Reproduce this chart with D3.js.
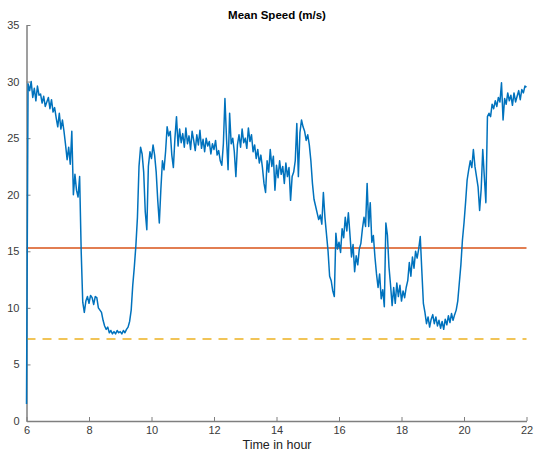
<!DOCTYPE html>
<html><head><meta charset="utf-8">
<script src="https://cdn.jsdelivr.net/npm/d3@7"></script>
<style>body{margin:0;background:#fff;}svg{display:block;font-family:"Liberation Sans",Arial,sans-serif;}</style>
</head><body><svg id="c" width="534" height="453"></svg>
<script>
const startHour = 6;
const stepHour = 0.05;
const speed = [
 1.5,29.8,29.2,30.0,28.6,29.4,28.3,29.6,28.8,28.9,28.1,28.7,27.8,28.2,28.6,27.6,28.4,27.3,27.7,26.8,
 26.0,27.2,25.8,26.6,25.6,24.4,23.1,24.2,22.7,25.6,20.0,21.8,20.4,19.8,21.6,15.0,10.5,9.6,10.6,11.0,
 10.4,11.1,10.9,10.3,11.0,10.9,10.0,9.8,9.6,8.9,8.4,8.1,8.3,7.8,8.0,7.7,7.9,7.7,8.0,7.8,
 7.9,7.7,8.0,7.8,8.1,8.3,8.8,9.8,12.0,13.6,15.5,18.0,22.5,24.2,23.6,22.0,18.5,16.9,22.5,23.8,
 23.2,24.4,23.5,22.0,19.5,17.5,20.5,23.0,22.2,23.8,26.0,25.2,25.6,23.5,22.4,25.0,26.9,24.3,25.8,24.6,
 25.4,24.2,25.9,24.5,25.2,24.0,25.6,24.8,23.9,25.3,24.4,25.7,24.1,24.9,23.8,25.0,24.3,24.7,23.6,24.5,
 24.0,24.8,23.5,23.9,23.0,22.6,24.5,28.5,25.0,22.2,27.2,24.5,25.0,23.8,21.6,24.4,25.3,24.2,25.8,24.6,
 25.0,24.1,25.9,24.7,25.3,23.8,24.4,23.2,24.0,22.8,23.5,22.4,21.0,20.2,23.0,22.0,24.0,22.5,23.4,20.4,
 22.6,21.5,23.0,21.8,22.5,21.0,22.8,21.6,22.4,19.5,21.6,22.0,23.0,26.3,21.6,25.5,26.6,26.0,25.6,24.8,
 25.3,24.4,23.0,21.0,19.6,19.0,18.4,17.8,18.2,17.4,20.2,18.0,16.5,15.0,12.8,12.4,11.5,11.0,16.6,15.2,
 15.8,14.9,17.0,16.2,18.0,16.8,18.4,16.5,14.5,15.6,13.2,14.6,13.8,15.2,15.7,17.0,18.0,17.2,21.0,17.2,
 19.3,15.8,16.4,14.5,13.0,11.8,13.0,10.8,11.6,10.1,17.5,16.4,13.6,12.0,10.2,11.8,10.4,12.2,11.0,12.0,
 10.6,11.5,10.9,11.8,12.4,14.0,12.8,14.5,13.5,15.0,14.4,15.2,16.3,13.3,10.4,9.6,8.6,9.2,8.3,9.0,
 9.4,8.6,9.2,8.4,8.9,8.2,8.8,8.1,9.0,8.5,9.3,8.7,9.5,8.9,9.4,9.8,10.6,12.2,13.8,16.0,
 17.5,19.3,21.3,22.2,23.0,22.4,24.0,22.5,21.6,20.7,18.6,20.5,24.0,21.6,19.3,26.9,27.2,26.9,28.0,27.6,
 28.3,27.8,28.6,28.2,29.9,26.6,28.5,28.0,29.0,28.3,28.8,27.9,29.0,28.2,28.7,29.2,28.4,29.3,29.0,29.6,
 29.5
];
const redLevel = 15.3;
const yellowLevel = 7.25;
const xTicks = [6,8,10,12,14,16,18,20,22];
const yTicks = [0,5,10,15,20,25,30,35];
const titleText = "Mean Speed (m/s)";
const xLabelText = "Time in hour";

const svg = d3.select("#c");
const m = {l:26.5, r:7.5, t:25, b:32};
const W = 534, H = 453;
const x = d3.scaleLinear().domain([6,22]).range([m.l, W - m.r]);
const y = d3.scaleLinear().domain([0,35]).range([H - m.b, m.t]);

const data = speed.map((v,i)=>({h:startHour + i*stepHour, v}));

// axes
const axisColor = "#7f7f7f";
const gx = svg.append("g").attr("transform",`translate(0,${y(0)})`)
  .call(d3.axisBottom(x).tickValues(xTicks).tickSizeInner(-4).tickSizeOuter(0).tickPadding(5.5));
const gy = svg.append("g").attr("transform",`translate(${x(6)},0)`)
  .call(d3.axisLeft(y).tickValues(yTicks).tickSizeInner(-4).tickSizeOuter(0).tickPadding(7));
[gx,gy].forEach(g=>{
  g.select(".domain").attr("stroke",axisColor).attr("stroke-width",1.5);
  g.selectAll(".tick line").attr("stroke",axisColor).attr("stroke-width",1);
  g.selectAll(".tick text").attr("fill","#3a3a3a").attr("font-size",11)
    .attr("font-family",'"Liberation Sans",Arial,sans-serif');
});

// reference lines
svg.append("line").attr("x1",x(6)).attr("x2",x(22)).attr("y1",y(redLevel)).attr("y2",y(redLevel))
  .attr("stroke","#D95319").attr("stroke-width",1.5);
svg.append("line").attr("x1",x(6)).attr("x2",x(22)).attr("y1",y(yellowLevel)).attr("y2",y(yellowLevel))
  .attr("stroke","#EDB120").attr("stroke-width",1.5).attr("stroke-dasharray","9,7");

// series
svg.append("path").datum(data)
  .attr("d", d3.line().x(d=>x(d.h)).y(d=>y(d.v)))
  .attr("fill","none").attr("stroke","#0072BD").attr("stroke-width",1.5).attr("stroke-linejoin","round");

svg.append("text").attr("x",277).attr("y",19).attr("text-anchor","middle")
  .attr("font-size",11.5).attr("font-weight","bold").attr("fill","#000").text(titleText);
svg.append("text").attr("x",277).attr("y",448.5).attr("text-anchor","middle")
  .attr("font-size",12.5).attr("fill","#222").text(xLabelText);
</script></body></html>
